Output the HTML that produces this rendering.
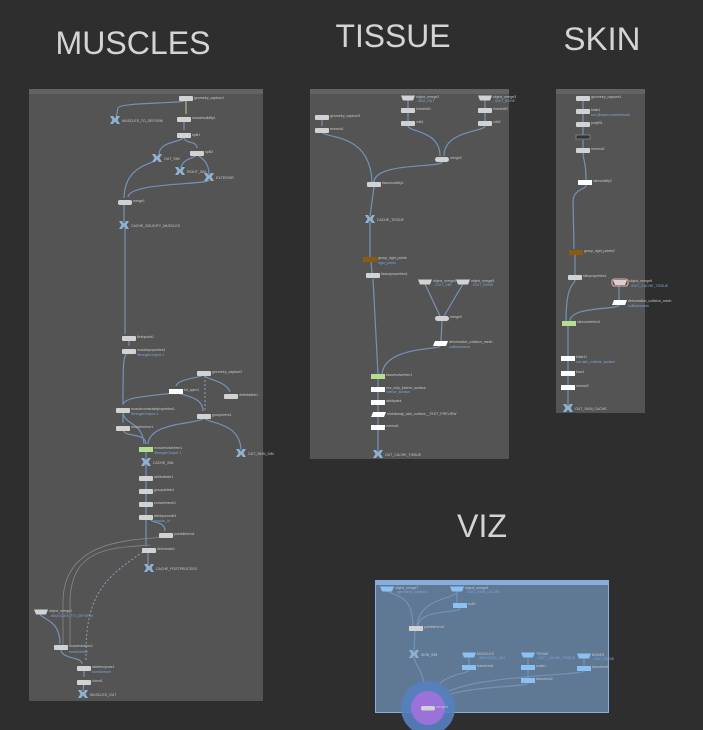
<!DOCTYPE html>
<html><head><meta charset="utf-8"><style>
html,body{margin:0;padding:0;background:#2e2e2e;width:703px;height:730px;overflow:hidden}
svg{display:block}
.t{font-family:"Liberation Sans",sans-serif;fill:#d4d4d4}
.l{font-family:"Liberation Sans",sans-serif;font-size:3.5px;fill:#c8c8c8}
.b{font-family:"Liberation Sans",sans-serif;font-size:3.5px;fill:#7fa6d6}
.w{fill:none;stroke:#7592b6;stroke-width:1.2}
.g{fill:none;stroke:#888;stroke-width:0.8}
.d{fill:none;stroke:#8aa0bb;stroke-width:1;stroke-dasharray:2 2}
.n{fill:#d2d2d2}
.x{fill:#8fb2d2}
.vb{fill:#8cc0f2}
</style></head><body>
<svg width="703" height="730" viewBox="0 0 703 730" xmlns="http://www.w3.org/2000/svg">
<defs>
<g id="X"><path d="M-5,-4 L-2,-4 L0,-1.5 L2,-4 L5,-4 L2.5,0 L5,4 L2,4 L0,1.5 L-2,4 L-5,4 L-2.5,0Z" class="x"/></g>
<g id="T"><path d="M-7,-2.5 L7,-2.5 L5,2.5 L-5,2.5Z"/></g>
</defs>
<text x="133" y="54" class="t" font-size="32" text-anchor="middle" textLength="155" lengthAdjust="spacingAndGlyphs">MUSCLES</text>
<text x="393" y="47" class="t" font-size="32" text-anchor="middle" textLength="115" lengthAdjust="spacingAndGlyphs">TISSUE</text>
<text x="602" y="50" class="t" font-size="32" text-anchor="middle" textLength="77" lengthAdjust="spacingAndGlyphs">SKIN</text>
<text x="482" y="537" class="t" font-size="32" text-anchor="middle" textLength="50" lengthAdjust="spacingAndGlyphs">VIZ</text>

<!-- MUSCLES -->
<rect x="29" y="89" width="234" height="612" fill="#545454"/>
<rect x="29" y="89" width="234" height="5" fill="#636363"/>
<g>
<path class="w" d="M186,100 C186,104 120,102 118,108 L116,118"/>
<path d="M186,100 L186,114" stroke="#b8d08a" stroke-width="1" fill="none"/>
<path class="w" d="M184,120 L184,130"/>
<path class="w" d="M184,136 C184,143 160,140 159,154"/>
<path class="w" d="M184,136 C184,145 197,140 197,148"/>
<path class="w" d="M197,154 C197,158 182,158 181,168"/>
<path class="w" d="M197,154 C200,158 209,160 209,175"/>
<path class="w" d="M157,158 C157,165 125,162 124,198"/>
<path class="w" d="M209,180 C209,185 130,182 128,197"/>
<path class="w" d="M124,203 L124,222"/>
<path class="w" d="M125,228 L125,334"/>
<path class="w" d="M129,339 L129,346"/>
<path class="w" d="M129,352 C123,355 123,360 123,405"/>
<path class="w" d="M204,374 C204,378 178,378 176,386"/>
<path class="w" d="M204,374 C204,380 226,380 230,392"/>
<path class="d" d="M205,376 L205,410"/>
<path class="w" d="M176,391 C176,396 123,394 123,405"/>
<path class="w" d="M176,391 C176,396 203,394 203,411"/>
<path class="w" d="M123,411 L123,423"/>
<path class="w" d="M123,411 C123,426 142,420 144,444"/>
<path class="w" d="M123,429 C123,438 146,432 146,444"/>
<path class="w" d="M204,417 C204,425 150,420 148,444"/>
<path class="w" d="M204,417 C204,424 240,420 241,450"/>
<path class="w" d="M146,450 L146,546"/>
<path class="w" d="M148,552 L148,566"/>
<path class="w" d="M150,518 C150,524 165,520 165,531"/>
<path class="g" d="M166,537 C130,540 65,540 63,600 L63,645"/>
<path class="g" d="M150,545 C110,548 72,548 70,600 L70,645"/>
<path class="d" d="M143,552 C100,580 85,600 86,660"/>
<path class="w" d="M40,613 C40,620 60,618 60,644"/>
<path class="w" d="M61,649 C61,660 82,656 82,664"/>
<path class="w" d="M84,670 L84,677"/>
<path class="w" d="M84,683 L83,691"/>
</g>
<g>
<rect class="n" x="179" y="96" width="14" height="5" rx="1"/><text class="l" x="194" y="99">geometry_capture1</text>
<rect class="n" x="177" y="117" width="14" height="5" rx="1"/><text class="l" x="192" y="119">musclesolidify1</text>
<rect class="n" x="177" y="133" width="14" height="5" rx="1"/><text class="l" x="192" y="136">split1</text>
<rect class="n" x="190" y="151" width="14" height="5" rx="1"/><text class="l" x="205" y="153">split2</text>
<rect class="n" x="118" y="200" width="14" height="5" rx="2"/><text class="l" x="133" y="202">merge1</text>
<rect class="n" x="122" y="336" width="14" height="5" rx="1"/><text class="l" x="137" y="338">fleshpoint1</text>
<rect class="n" x="122" y="349" width="14" height="5" rx="1"/><text class="l" x="137" y="351">muscleproperties1</text><text class="b" x="137" y="356">StrengthOutput: 1</text>
<rect class="n" x="197" y="371" width="14" height="5" rx="1"/><text class="l" x="212" y="373">geometry_capture2</text>
<rect fill="#fff" x="169" y="389" width="14" height="5"/><text class="l" x="184" y="391">tet_spec1</text>
<rect class="n" x="224" y="394" width="14" height="5" rx="1"/><text class="l" x="239" y="396">deleteattrib1</text>
<rect class="n" x="116" y="408" width="14" height="5" rx="1"/><text class="l" x="131" y="410">muscleconstraintproperties1</text><text class="b" x="131" y="415">StrengthOutput: 1</text>
<rect class="n" x="116" y="426" width="14" height="5" rx="1"/><text class="l" x="131" y="428">musclemirror1</text>
<rect class="n" x="197" y="414" width="14" height="5" rx="1"/><text class="l" x="212" y="416">grouprivers1</text>
<rect fill="#b3e08c" x="139" y="447" width="14" height="5"/><text class="l" x="154" y="449">musclesolverfem1</text><text class="b" x="154" y="454">StrengthOutput: 1</text>
<rect class="n" x="139" y="476" width="14" height="5" rx="1"/><text class="l" x="154" y="478">attribdelete1</text>
<rect class="n" x="139" y="489" width="14" height="5" rx="1"/><text class="l" x="154" y="491">groupdelete1</text>
<rect class="n" x="139" y="502" width="14" height="5" rx="1"/><text class="l" x="154" y="504">convertmesh1</text>
<rect class="n" x="139" y="515" width="14" height="5" rx="1"/><text class="l" x="154" y="517">attribpromote1</text><text class="b" x="154" y="522">muscle_id</text>
<rect class="n" x="159" y="533" width="14" height="5" rx="1"/><text class="l" x="174" y="535">pointdeform1</text>
<rect class="n" x="142" y="548" width="14" height="5" rx="1"/><text class="l" x="157" y="550">deformattr1</text>
<rect class="n" x="54" y="645" width="14" height="5" rx="1"/><text class="l" x="69" y="647">muscledeform1</text><text class="b" x="69" y="653">boneDeform</text>
<rect class="n" x="77" y="666" width="14" height="5" rx="1"/><text class="l" x="92" y="668">skeletonpose1</text><text class="b" x="92" y="673">boneDeform</text>
<rect class="n" x="77" y="680" width="14" height="5" rx="1"/><text class="l" x="92" y="682">xform1</text>
<use href="#T" x="41" y="612" fill="#d2d2d2"/><text class="l" x="49" y="612">object_merge1</text><text class="b" x="49" y="617">../MUSCLES_TO_DEFORM</text>
<use href="#X" x="115" y="120"/><text class="l" x="122" y="122">MUSCLES_TO_DEFORM</text>
<use href="#X" x="157" y="158"/><text class="l" x="164" y="160">OUT_SIM</text>
<use href="#X" x="180" y="171"/><text class="l" x="187" y="173">RIGHT_SIM</text>
<use href="#X" x="209" y="177"/><text class="l" x="216" y="179">EXTERIOR</text>
<use href="#X" x="124" y="225"/><text class="l" x="131" y="227">CACHE_SOLIDIFY_MUSCLES</text>
<use href="#X" x="146" y="462"/><text class="l" x="153" y="464">CACHE_SIM</text>
<use href="#X" x="241" y="453"/><text class="l" x="248" y="455">OUT_SKIN_SIM</text>
<use href="#X" x="149" y="568"/><text class="l" x="156" y="570">CACHE_POSTPROCESS</text>
<use href="#X" x="83" y="694"/><text class="l" x="90" y="696">MUSCLES_OUT</text>
</g>

<!-- TISSUE -->
<rect x="310" y="89" width="199" height="370" fill="#545454"/>
<rect x="310" y="89" width="199" height="5" fill="#636363"/>
<g>
<path class="w" d="M322,118 L322,126"/>
<path class="w" d="M322,131 C322,140 370,130 372,182"/>
<path class="w" d="M408,100 L408,121"/>
<path class="w" d="M485,100 L485,121"/>
<path class="w" d="M408,126 C408,132 440,130 440,156"/>
<path class="w" d="M485,126 C485,132 444,130 444,156"/>
<path class="w" d="M442,162 C442,168 375,162 374,182"/>
<path class="w" d="M374,187 L370,216"/>
<path class="w" d="M370,222 L370,257"/>
<path class="w" d="M371,262 L372,273"/>
<path class="w" d="M373,279 L378,374"/>
<path class="w" d="M425,284 L440,316"/>
<path class="w" d="M463,284 L444,316"/>
<path class="w" d="M442,321 L441,341"/>
<path class="w" d="M440,346 C440,350 385,346 382,374"/>
<path class="w" d="M378,379 L378,452"/>
</g>
<g>
<rect class="n" x="315" y="115" width="14" height="5" rx="1"/><text class="l" x="330" y="117">geometry_capture3</text>
<rect class="n" x="315" y="128" width="14" height="5" rx="1"/><text class="l" x="330" y="130">remesh1</text>
<use href="#T" x="408" y="98" fill="#d2d2d2"/><text class="l" x="416" y="98">object_merge2</text><text class="b" x="416" y="102">../SIM_OUT</text>
<rect class="n" x="401" y="108" width="14" height="5" rx="1"/><text class="l" x="416" y="110">timeshift1</text>
<rect class="n" x="401" y="121" width="14" height="5" rx="1"/><text class="l" x="416" y="123">vdb1</text>
<use href="#T" x="485" y="98" fill="#d2d2d2"/><text class="l" x="493" y="98">object_merge3</text><text class="b" x="493" y="102">../OUT_BONE</text>
<rect class="n" x="478" y="108" width="14" height="5" rx="1"/><text class="l" x="493" y="110">timeshift2</text>
<rect class="n" x="478" y="121" width="14" height="5" rx="1"/><text class="l" x="493" y="123">vdb2</text>
<rect class="n" x="435" y="157" width="14" height="5" rx="2.5"/><text class="l" x="450" y="159">merge2</text>
<rect class="n" x="367" y="182" width="14" height="5" rx="1"/><text class="l" x="382" y="184">tissuesolidify1</text>
<use href="#X" x="370" y="219"/><text class="l" x="377" y="221">CACHE_TISSUE</text>
<rect fill="#8a5a10" x="363" y="257" width="14" height="5"/><text class="l" x="378" y="259">group_rigid_points</text><text class="b" x="378" y="264">rigid_points</text>
<rect class="n" x="366" y="273" width="14" height="5" rx="1"/><text class="l" x="381" y="275">tissueproperties1</text>
<use href="#T" x="425" y="282" fill="#d2d2d2"/><text class="l" x="433" y="282">object_merge4</text><text class="b" x="433" y="286">../OUT_SIM</text>
<use href="#T" x="463" y="282" fill="#d2d2d2"/><text class="l" x="471" y="282">object_merge5</text><text class="b" x="471" y="286">../OUT_BONE</text>
<rect class="n" x="435" y="316" width="14" height="5" rx="2.5"/><text class="l" x="450" y="318">merge3</text>
<path d="M435,341 L448,341 L446,346 L433,346Z" fill="#fff"/><text class="l" x="449" y="343">deformation_collision_mesh</text><text class="b" x="449" y="348">collisionmesh</text>
<rect fill="#b3e08c" x="371" y="374" width="14" height="5"/><text class="l" x="386" y="376">tissuesolverfem1</text>
<rect fill="#fff" x="371" y="387" width="14" height="5"/><text class="l" x="386" y="389">vex_only_interior_surface</text><text class="b" x="386" y="393">interior_surface</text>
<rect fill="#fff" x="371" y="400" width="14" height="5"/><text class="l" x="386" y="402">attribpaint</text>
<path d="M373,412 L386,412 L384,417 L371,417Z" fill="#fff"/><text class="l" x="387" y="415">shrinkwrap_skin_surface__TEST_PREVIEW</text>
<rect fill="#fff" x="371" y="425" width="14" height="5"/><text class="l" x="386" y="427">normal1</text>
<use href="#X" x="378" y="454"/><text class="l" x="385" y="456">OUT_CACHE_TISSUE</text>
</g>

<!-- SKIN -->
<rect x="556" y="89" width="89" height="324" fill="#545454"/>
<rect x="556" y="89" width="89" height="5" fill="#636363"/>
<g>
<path class="w" d="M583,100 L583,135"/>
<path class="w" d="M583,140 L583,148"/>
<path class="w" d="M583,153 C583,160 586,160 586,180"/>
<path class="w" d="M586,185 C586,190 575,188 573,200 L574,249"/>
<path class="w" d="M575,254 L575,275"/>
<path class="w" d="M575,280 C575,285 566,282 566,321"/>
<path class="w" d="M619,285 L619,300"/>
<path class="w" d="M619,305 C619,310 570,306 570,321"/>
<path class="w" d="M568,326 L568,406"/>
</g>
<g>
<rect class="n" x="576" y="96" width="14" height="5" rx="1"/><text class="l" x="591" y="98">geometry_capture4</text>
<rect class="n" x="576" y="109" width="14" height="5" rx="1"/><text class="l" x="591" y="111">blast1</text><text class="b" x="591" y="116">not @name=insideMouth</text>
<rect class="n" x="576" y="122" width="14" height="5" rx="1"/><text class="l" x="591" y="124">polyfill1</text>
<rect fill="#333" stroke="#888" stroke-width="0.8" x="576" y="135" width="14" height="4"/>
<rect class="n" x="576" y="148" width="14" height="5" rx="1"/><text class="l" x="591" y="150">remesh2</text>
<rect fill="#fff" x="578" y="180" width="14" height="5"/><text class="l" x="593" y="182">skinsolidify2</text>
<rect fill="#8a5a10" x="569" y="250" width="14" height="5"/><text class="l" x="584" y="252">group_rigid_points2</text>
<rect class="n" x="568" y="275" width="14" height="5" rx="1"/><text class="l" x="583" y="277">skinproperties1</text>
<rect fill="none" stroke="#d89a9a" stroke-width="1.3" x="612" y="279" width="16" height="7" rx="2.5"/><use href="#T" x="620" y="282.5" fill="#d2d2d2"/><text class="l" x="629" y="282">object_merge6</text><text class="b" x="629" y="287">../OUT_CACHE_TISSUE</text>
<path d="M614,300 L627,300 L625,305 L612,305Z" fill="#fff"/><text class="l" x="628" y="302">deformation_collision_mesh</text><text class="b" x="628" y="307">collisionmesh</text>
<rect fill="#b3e08c" x="562" y="321" width="14" height="5"/><text class="l" x="577" y="323">skinsolverfem1</text>
<rect fill="#fff" x="561" y="356" width="14" height="5"/><text class="l" x="576" y="358">blast11</text><text class="b" x="576" y="363">not skin_exterior_surface</text>
<rect fill="#fff" x="561" y="371" width="14" height="5"/><text class="l" x="576" y="373">fuse1</text>
<rect fill="#fff" x="561" y="385" width="14" height="5"/><text class="l" x="576" y="387">normal2</text>
<use href="#X" x="568" y="408"/><text class="l" x="575" y="410">OUT_SKIN_CACHE</text>
</g>

<!-- VIZ -->
<rect x="375.5" y="580.5" width="233" height="132" fill="#5f7894" stroke="#87aede" stroke-width="1"/>
<rect x="376" y="581" width="232" height="4" fill="#87aede"/>
<g>
<path class="w" d="M387,591 C400,598 412,596 413,626" stroke="#8cbde8"/>
<path class="w" d="M457,591 C457,600 420,596 417,626" stroke="#8cbde8"/>
<path class="w" d="M457,591 L457,603" stroke="#8cbde8"/>
<path class="w" d="M460,608 C460,614 420,608 418,626" stroke="#8cbde8"/>
<path class="w" d="M415,631 L414,651" stroke="#8cbde8"/>
<path class="w" d="M414,657 C414,665 425,668 427,705" stroke="#8cbde8"/>
<path class="w" d="M469,657 L469,665" stroke="#8cbde8"/>
<path class="w" d="M528,657 L528,678" stroke="#8cbde8"/>
<path class="w" d="M584,658 L584,666" stroke="#8cbde8"/>
<path class="w" d="M469,670 C469,675 432,672 430,705" stroke="#8cbde8"/>
<path class="w" d="M584,671 C584,676 440,674 433,705" stroke="#8cbde8"/>
<path class="w" d="M528,683 C528,688 440,685 435,705" stroke="#8cbde8"/>
</g>
<g>
<use href="#T" x="387" y="589" fill="#8cc0f2"/><text class="l" x="395" y="589">object_merge7</text><text class="b" x="395" y="593">../geometry_capture1</text>
<use href="#T" x="457" y="589" fill="#8cc0f2"/><text class="l" x="465" y="589">object_merge8</text><text class="b" x="465" y="593">../OUT_SKIN_CACHE</text>
<rect class="vb" x="453" y="603" width="14" height="5"/><text class="l" x="468" y="605">null1</text>
<rect class="n" x="409" y="626" width="14" height="5"/><text class="l" x="424" y="628">pointdeform2</text>
<use href="#X" x="414" y="654"/><text class="l" x="421" y="656">SKIN_SIM</text>
<use href="#T" x="469" y="655" fill="#8cc0f2"/><text class="l" x="477" y="655">MUSCLES</text><text class="b" x="477" y="659">../MUSCLES_SIM</text>
<rect class="vb" x="462" y="665" width="14" height="5"/><text class="l" x="477" y="667">transform1</text>
<use href="#T" x="528" y="655" fill="#8cc0f2"/><text class="l" x="536" y="655">TISSUE</text><text class="b" x="536" y="659">../OUT_CACHE_TISSUE</text>
<rect class="vb" x="521" y="665" width="14" height="5"/><text class="l" x="536" y="667">scale1</text>
<rect class="vb" x="521" y="678" width="14" height="5"/><text class="l" x="536" y="680">transform2</text>
<use href="#T" x="584" y="656" fill="#8cc0f2"/><text class="l" x="592" y="656">BONES</text><text class="b" x="592" y="660">../OUT_BONE</text>
<rect class="vb" x="577" y="666" width="14" height="5"/><text class="l" x="592" y="668">transform3</text>
</g>
<circle cx="428" cy="708" r="27" fill="#5680c0" opacity="0.9"/>
<circle cx="428" cy="708" r="17" fill="#9a72d8"/>
<rect class="n" x="421" y="706" width="14" height="4.5" rx="2"/><text class="l" x="436" y="708">merge4</text>
</svg>
</body></html>
